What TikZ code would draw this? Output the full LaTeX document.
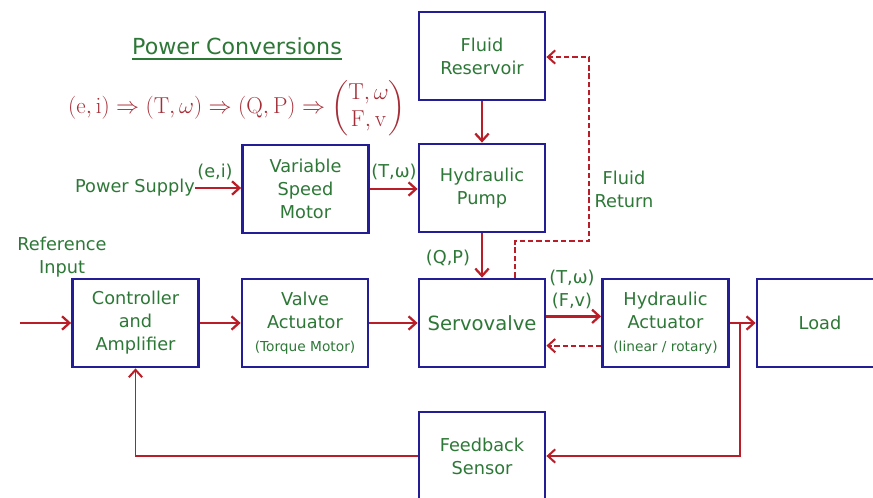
\documentclass[tikz,border=0pt]{standalone}
\usepackage{amsmath}
\usepackage[no-math]{fontspec}
\setmainfont{DejaVu Sans}
\usetikzlibrary{arrows.meta}
\definecolor{boxblue}{RGB}{35,30,150}
\definecolor{txtgreen}{RGB}{45,120,55}
\definecolor{arrred}{RGB}{185,30,40}
\definecolor{mathred}{RGB}{165,45,55}
\newcommand\mysmallfont{\fontsize{10.3}{12}\selectfont}
\begin{document}
\begin{tikzpicture}[x=0.75pt,y=-0.75pt,
  blk/.style={draw=boxblue, line width=2.1pt, fill=white, minimum width=94.5pt, minimum height=66pt,
    align=center, text=txtgreen, font=\fontsize{13.3}{17.3}\selectfont, inner sep=0pt},
  lbl/.style={text=txtgreen, font=\fontsize{13.3}{17.3}\selectfont, align=center, inner sep=0pt},
  flow/.style={draw=arrred, line width=2pt, -{Straight Barb[length=5.5pt,width=10pt,line width=1.7pt]}},
  fbflow/.style={draw=arrred, line width=1.4pt, -{Straight Barb[length=5.5pt,width=10pt,line width=1.5pt]}},
  dflow/.style={draw=arrred, line width=1.7pt, dash pattern=on 4pt off 2.2pt, -{Straight Barb[length=5.5pt,width=10pt,line width=1.5pt]}},
]
\useasboundingbox (0,0) rectangle (873,498);
\clip (0,0) rectangle (873,498);

% title and formula
\node[text=txtgreen, font=\fontsize{16.6}{20}\selectfont, inner sep=0pt] (title) at (237,46) {Power Conversions};
\draw[txtgreen, line width=1.6pt] ([yshift=-3pt]title.south west) -- ([yshift=-3pt]title.south east);
\node[text=mathred, font=\fontsize{17.5}{20}\selectfont, inner sep=0pt] (formula) at (237,108)
  {$(\mathrm{e},\mathrm{i})\Rightarrow(\mathrm{T},\omega)\Rightarrow(\mathrm{Q},\mathrm{P})\Rightarrow
   \begin{pmatrix}\mathrm{T},\omega\\ \mathrm{F},\mathrm{v}\end{pmatrix}$};

% blocks
\node[blk] (res) at (482,56) {Fluid\\Reservoir};
\node[blk] (pump) at (482,188) {Hydraulic\\Pump};
\node[blk] (vsm) at (305.5,189) {Variable\\Speed\\Motor};
\node[blk] (ctrl) at (135.5,323) {Controller\\and\\Amplifier};
\node[blk] (valve) at (305,323) {Valve\\Actuator\\{\mysmallfont(Torque Motor)}};
\node[blk, font=\fontsize{14.7}{17}\selectfont] (sv) at (482,323) {Servovalve};
\node[blk] (act) at (665.5,323) {Hydraulic\\Actuator\\{\mysmallfont(linear / rotary)}};
\node[blk] (load) at (820,323) {Load};
\node[blk] (fb) at (482,456) {Feedback\\Sensor};

% labels
\node[lbl] (ps) at (135,188) {Power Supply};
\node[lbl] (ei) at (215,172) {(e,i)};
\node[lbl] (tw1) at (394,172) {(T,ω)};
\node[lbl] (ref) at (62,257) {Reference\\Input};
\node[lbl] (qp) at (448,258) {(Q,P)};
\node[lbl] (twfv) at (572,289) {(T,ω)\\(F,v)};
\node[lbl] (fr) at (624,189) {Fluid\\Return};

% coordinates
\coordinate (refin) at (20,323);
\coordinate (br) at (740,323);
\coordinate (d1) at (515,241);
\coordinate (d2) at (589,241);
\coordinate (d3) at (589,57);

% connectors
\draw[flow] (refin) -- (ctrl.west);
\draw[flow] (ps.east) -- (vsm.west |- ps.east);
\draw[flow] (vsm.east) -- (pump.west |- vsm.east);
\draw[flow] (res.south) -- (pump.north);
\draw[flow] (pump.south) -- (sv.north);
\draw[flow] (ctrl.east) -- (valve.west);
\draw[flow] (valve.east) -- (sv.west);
\draw[flow] ([yshift=5pt]sv.east) -- ([yshift=5pt]act.west);
\draw[dflow] ([yshift=-17pt]act.west) -- ([yshift=-17pt]sv.east);
\draw[dflow] (sv.north -| d1) -- (d1) -- (d2) -- (d3) -- (res.east |- d3);
\draw[flow] (act.east) -- (load.west);
\draw[fbflow] (br) |- (fb.east);
\draw[fbflow] (fb.west) -| (ctrl.south);
\end{tikzpicture}
\end{document}
